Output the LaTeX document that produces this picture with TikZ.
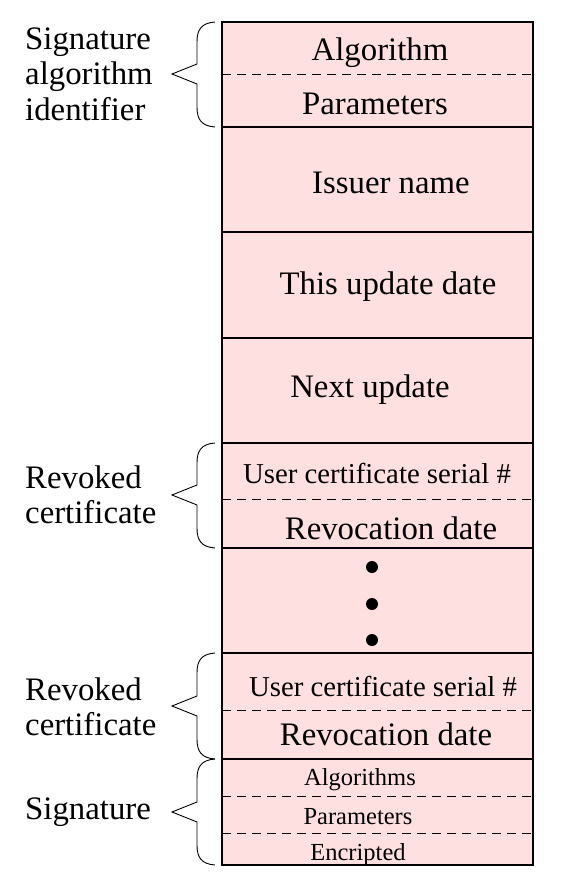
\documentclass[tikz,border=0pt]{standalone}
\usepackage{fontspec}
\setmainfont{Liberation Serif}
\definecolor{cellpink}{RGB}{255,224,224}
\begin{document}
\begin{tikzpicture}[x=1pt,y=-1pt,
  big/.style={font=\fontsize{32.8}{36}\selectfont, inner sep=0pt},
  mid/.style={font=\fontsize{28.8}{32}\selectfont, inner sep=0pt},
  small/.style={font=\fontsize{24.5}{28}\selectfont, inner sep=0pt},
  lbl/.style={font=\fontsize{32.8}{35.5}\selectfont, align=left, anchor=west, inner sep=0pt},
  divider/.style={line width=0.9pt, dash pattern=on 9pt off 6pt},
  sep/.style={line width=2pt},
  bracepath/.style={line width=0.9pt},
  dotmark/.style={circle, fill=black, inner sep=0pt, minimum size=12pt}]
\useasboundingbox (0,0) rectangle (562,887);
% background of record
\fill[cellpink] (222,22) rectangle (533,865);
% dashed dividers
\foreach \yy in {74,499,710,796,833}
  \draw[divider] (222,\yy) -- (533,\yy);
% solid separators
\foreach \yy in {127,232,338,443,548,653,759}
  \draw[sep] (222,\yy) -- (533,\yy);
\draw[sep] (222,22) rectangle (533,865);
% cell texts
\node[big] (alg) at (380,53) {Algorithm};
\node[big] (par) at (375,104) {Parameters};
\node[big] (iss) at (391,183) {Issuer name};
\node[big] (thu) at (388,287) {This update date};
\node[big] (nxt) at (370,390) {Next update};
\node[mid] (ucs1) at (377,473) {User certificate serial \#};
\node[big] (rvd1) at (391,528) {Revocation date};
\node[dotmark] (d1) at (372,567) {};
\node[dotmark] (d2) at (372,604) {};
\node[dotmark] (d3) at (372,640) {};
\node[mid] (ucs2) at (383,686) {User certificate serial \#};
\node[big] (rvd2) at (386,734) {Revocation date};
\node[small] (salg) at (360,780) {Algorithms};
\node[small] (spar) at (358,817) {Parameters};
\node[small] (senc) at (358,855) {Encripted};
% left labels
\node[lbl] (l1) at (25,74) {Signature\\algorithm\\identifier};
\node[lbl] (l2) at (25,495) {Revoked\\certificate};
\node[lbl] (l3) at (25,707) {Revoked\\certificate};
\node[lbl] (l4) at (25,812) {Signature};
% braces
\draw[bracepath] (215,22) .. controls (201,23) and (197,30) .. (197,42) -- (197,64) -- (172,74) -- (197,84) -- (197,107) .. controls (197,119) and (201,126) .. (215,127);
\draw[bracepath] (215,443) .. controls (201,444) and (197,451) .. (197,463) -- (197,485) -- (172,495) -- (197,505) -- (197,528) .. controls (197,540) and (201,547) .. (215,548);
\draw[bracepath] (215,653) .. controls (201,654) and (197,661) .. (197,673) -- (197,696) -- (172,706) -- (197,716) -- (197,739) .. controls (197,751) and (201,758) .. (215,759);
\draw[bracepath] (215,759) .. controls (201,760) and (197,767) .. (197,779) -- (197,802) -- (172,812) -- (197,822) -- (197,845) .. controls (197,857) and (201,864) .. (215,865);
\end{tikzpicture}
\end{document}
